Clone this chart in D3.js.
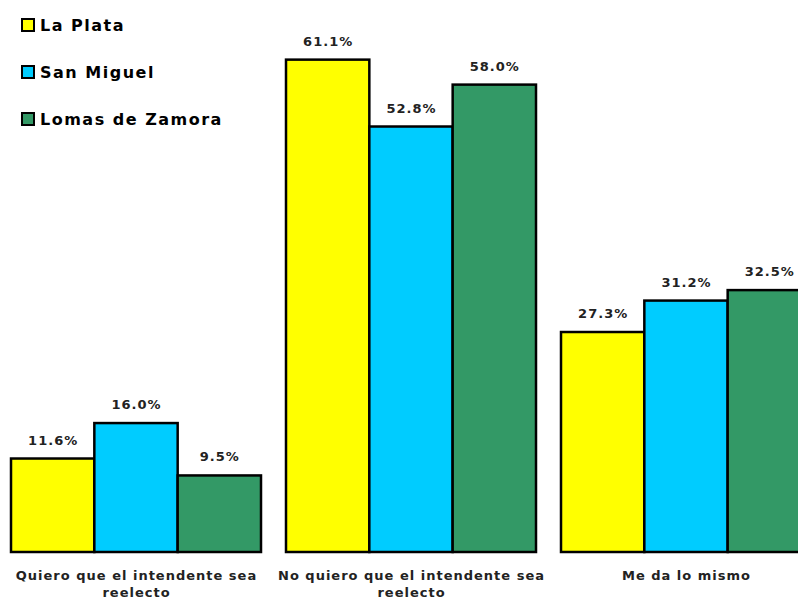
<!DOCTYPE html>
<html>
<head>
<meta charset="utf-8">
<script src="https://cdn.jsdelivr.net/npm/d3@7"></script>
<style>
  body { margin: 0; background: #fff; }
  svg { display: block; font-family: "DejaVu Sans", Verdana, sans-serif; }
</style>
</head>
<body>
<script>
const categories = [
  ["Quiero que el intendente sea", "reelecto"],
  ["No quiero que el intendente sea", "reelecto"],
  ["Me da lo mismo"]
];
const series = ["La Plata", "San Miguel", "Lomas de Zamora"];
const colors = ["#ffff00", "#00ccff", "#339966"];
const laPlata = [11.6, 61.1, 27.3];
const sanMiguel = [16.0, 52.8, 31.2];
const lomas = [9.5, 58.0, 32.5];

const values = [laPlata, sanMiguel, lomas];
const width = 798, height = 601;

const svg = d3.select("body").append("svg")
    .attr("width", width)
    .attr("height", height);

const x = d3.scaleBand()
    .domain(d3.range(categories.length))
    .range([-1.5, 823.5])
    .paddingInner(25 / 275)
    .paddingOuter(12.5 / 275);

const x1 = d3.scaleBand()
    .domain(d3.range(series.length))
    .range([0, x.bandwidth()]);

const y = d3.scaleLinear()
    .domain([0, 68.5])
    .range([552, 0]);

const data = [];
categories.forEach((c, i) => {
  series.forEach((s, j) => {
    data.push({cat: i, ser: j, v: values[j][i]});
  });
});

const g = svg.append("g");

g.selectAll("rect")
  .data(data)
  .join("rect")
    .attr("x", d => x(d.cat) + x1(d.ser))
    .attr("y", d => y(d.v))
    .attr("width", x1.bandwidth())
    .attr("height", d => y(0) - y(d.v))
    .attr("fill", d => colors[d.ser])
    .attr("stroke", "#000")
    .attr("stroke-width", 2.5);

g.selectAll("text.val")
  .data(data)
  .join("text")
    .attr("class", "val")
    .attr("x", d => x(d.cat) + x1(d.ser) + x1.bandwidth() / 2 + 0.5)
    .attr("y", d => y(d.v) - 14)
    .attr("text-anchor", "middle")
    .attr("font-size", 13)
    .attr("font-weight", "bold")
    .attr("letter-spacing", 1)
    .attr("fill", "#222")
    .text(d => d.v.toFixed(1) + "%");

// category labels
const cat = svg.append("g")
  .selectAll("text")
  .data(categories)
  .join("text")
    .attr("x", (d, i) => x(i) + x.bandwidth() / 2 + 0.5)
    .attr("y", 580)
    .attr("text-anchor", "middle")
    .attr("font-size", 13)
    .attr("font-weight", "bold")
    .attr("letter-spacing", 1)
    .attr("fill", "#222");

cat.selectAll("tspan")
  .data(d => d)
  .join("tspan")
    .attr("x", function() { return this.parentNode.getAttribute("x"); })
    .attr("dy", (d, i) => i === 0 ? 0 : 17)
    .text(d => d);

// legend
const legend = svg.append("g")
  .selectAll("g")
  .data(series)
  .join("g")
    .attr("transform", (d, i) => `translate(21,${18 + i * 47})`);

legend.append("rect")
    .attr("x", 1)
    .attr("y", 1)
    .attr("width", 12)
    .attr("height", 12)
    .attr("fill", (d, i) => colors[i])
    .attr("stroke", "#000")
    .attr("stroke-width", 2);

legend.append("text")
    .attr("x", 19)
    .attr("y", 13)
    .attr("font-size", 16)
    .attr("font-weight", "bold")
    .attr("letter-spacing", 1.5)
    .attr("fill", "#000")
    .text(d => d);
</script>
</body>
</html>
